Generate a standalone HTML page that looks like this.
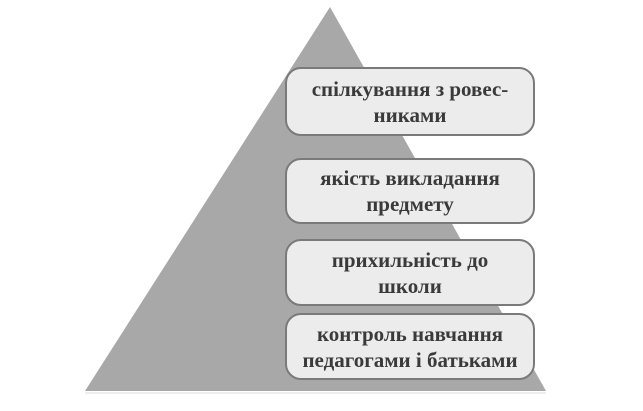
<!DOCTYPE html>
<html><head><meta charset="utf-8"><style>
body{margin:0;width:643px;height:411px;background:#fff;overflow:hidden;position:relative}
.b{position:absolute;left:285px;width:250px;background:#ececec;border:2px solid #7a7a7a;border-radius:16px;box-sizing:border-box;display:flex;align-items:center;justify-content:center;text-align:center;font-family:"Liberation Serif",serif;font-weight:bold;font-size:21px;line-height:26px;color:#3a3a3a;white-space:nowrap}
</style></head><body>
<svg width="643" height="411" style="position:absolute;left:0;top:0">
<polygon points="330,7 85,391 546,391" fill="#a8a8a8"/>
<line x1="85" y1="393" x2="546" y2="393" stroke="#ddd" stroke-width="1"/>
</svg>
<div class="b" style="top:67px;height:69px">спілкування з ровес-<br>никами</div>
<div class="b" style="top:158px;height:66px">якість викладання<br>предмету</div>
<div class="b" style="top:239px;height:67px">прихильність до<br>школи</div>
<div class="b" style="top:313px;height:67px">контроль навчання<br>педагогами і батьками</div>
</body></html>
